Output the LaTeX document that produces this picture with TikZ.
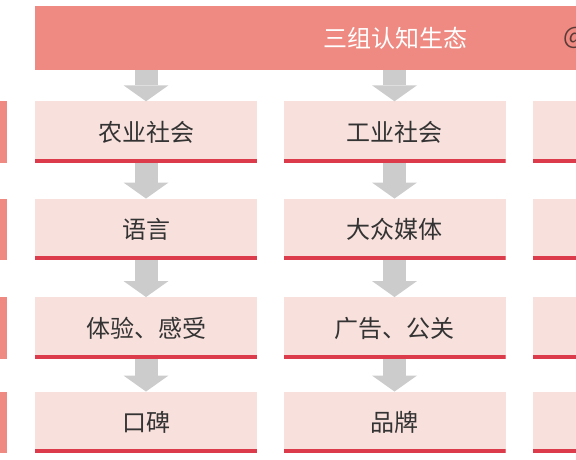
\documentclass[tikz,border=0pt]{standalone}
\usepackage{fontspec}
\setmainfont{Noto Sans CJK SC}
\usepackage{tikz}
\usetikzlibrary{arrows.meta}
\definecolor{headred}{HTML}{EE8A82}
\definecolor{cellpink}{HTML}{F8E0DC}
\definecolor{linered}{HTML}{DC3B4C}
\definecolor{arrowgray}{HTML}{CCCCCC}
\definecolor{textgray}{HTML}{333333}
\definecolor{signbrown}{HTML}{5B3B38}

\begin{document}
\begin{tikzpicture}[x=1pt, y=-1pt,
        cell/.style={fill=cellpink, text=textgray, minimum width=222pt, minimum height=61.5pt, inner sep=0pt,
            font=\fontsize{24}{24}\selectfont,
            path picture={\fill[linered] (path picture bounding box.south west) rectangle ([yshift=4pt]path picture bounding box.south east);}},
        side/.style={fill=headred, minimum width=100pt, minimum height=61.5pt, inner sep=0pt},
        flow/.style={arrowgray, line width=23pt, -{Triangle[width=45pt, length=16pt, line width=0pt]}}]
    \useasboundingbox (0,0) rectangle (576,460);
    \clip (0,0) rectangle (576,460);
            \node[fill=headred, minimum width=720pt, minimum height=64pt, inner sep=0pt, text=white,
                font=\fontsize{24}{24}\selectfont] (head) at (395,38) {三组认知生态};
            \node[anchor=west, inner sep=0pt, text=signbrown, font=\fontsize{24}{24}\selectfont] (sign) at (563,38) {@};
	    \foreach \y/\a/\b [count=\i] in {132.25/农业社会/工业社会, 229.5/语言/大众媒体,
            328/体验、感受/广告、公关, 422.5/口碑/品牌}{
                \node[side, anchor=east] (s\i) at (7,\y) {};
                \node[cell] (a\i) at (146,\y) {\a};
                \node[cell] (b\i) at (394.5,\y) {\b};
                \node[cell] (c\i) at (644,\y) {};
            }
            \draw[flow] (head.south -| a1) -- (a1.north);
            \draw[flow] (head.south -| b1) -- (b1.north);
            \foreach \i/\j in {1/2, 2/3, 3/4}{
                \draw[flow] (a\i.south) -- (a\j.north);
                \draw[flow] (b\i.south) -- (b\j.north);
            }
    \end{tikzpicture}
\end{document}
